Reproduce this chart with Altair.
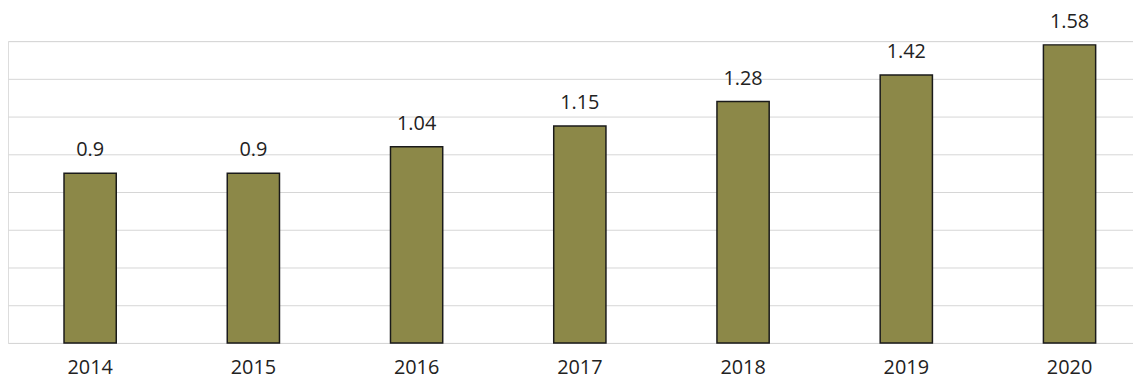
import altair as alt
import pandas as pd

years = ["2014", "2015", "2016", "2017", "2018", "2019", "2020"]
values = [0.9, 0.9, 1.04, 1.15, 1.28, 1.42, 1.58]
labels = ["0.9", "0.9", "1.04", "1.15", "1.28", "1.42", "1.58"]
grid_values = [0, 0.2, 0.4, 0.6, 0.8, 1.0, 1.2, 1.4, 1.6]

df = pd.DataFrame({"year": years, "value": values, "label": labels})

x = alt.X(
    "year:N",
    sort=years,
    title=None,
    scale=alt.Scale(paddingInner=0.68, paddingOuter=0.286, align=0.6),
    axis=alt.Axis(
        labelAngle=0,
        labelFont="Open Sans",
        labelFontSize=20,
        labelColor="#222222",
        labelPadding=15,
        domain=False,
        ticks=False,
    ),
)
y = alt.Y(
    "value:Q",
    title=None,
    scale=alt.Scale(domain=[0, 1.6], nice=False),
    axis=alt.Axis(
        values=grid_values,
        labels=False,
        ticks=False,
        domain=False,
        grid=True,
        gridColor="#d6d6d6",
        gridWidth=1,
    ),
)

bars = alt.Chart(df).mark_bar(
    color="#8C8848", stroke="#1a1a1a", strokeWidth=1.5
).encode(x=x, y=y)

text = alt.Chart(df).mark_text(
    font="Open Sans", fontSize=20, color="#222222", baseline="alphabetic", dy=-17
).encode(x=x, y=y, text="label:N")

chart = (
    alt.layer(bars, text)
    .properties(
        width=1133,
        height=304,
        autosize=alt.AutoSizeParams(type="none"),
        padding={"left": 0, "top": 32, "right": 0, "bottom": 40},
    )
    .configure_view(stroke=None)
    .configure(background="white")
)

chart.save("out.html", embed_options={"renderer": "svg", "actions": False})
